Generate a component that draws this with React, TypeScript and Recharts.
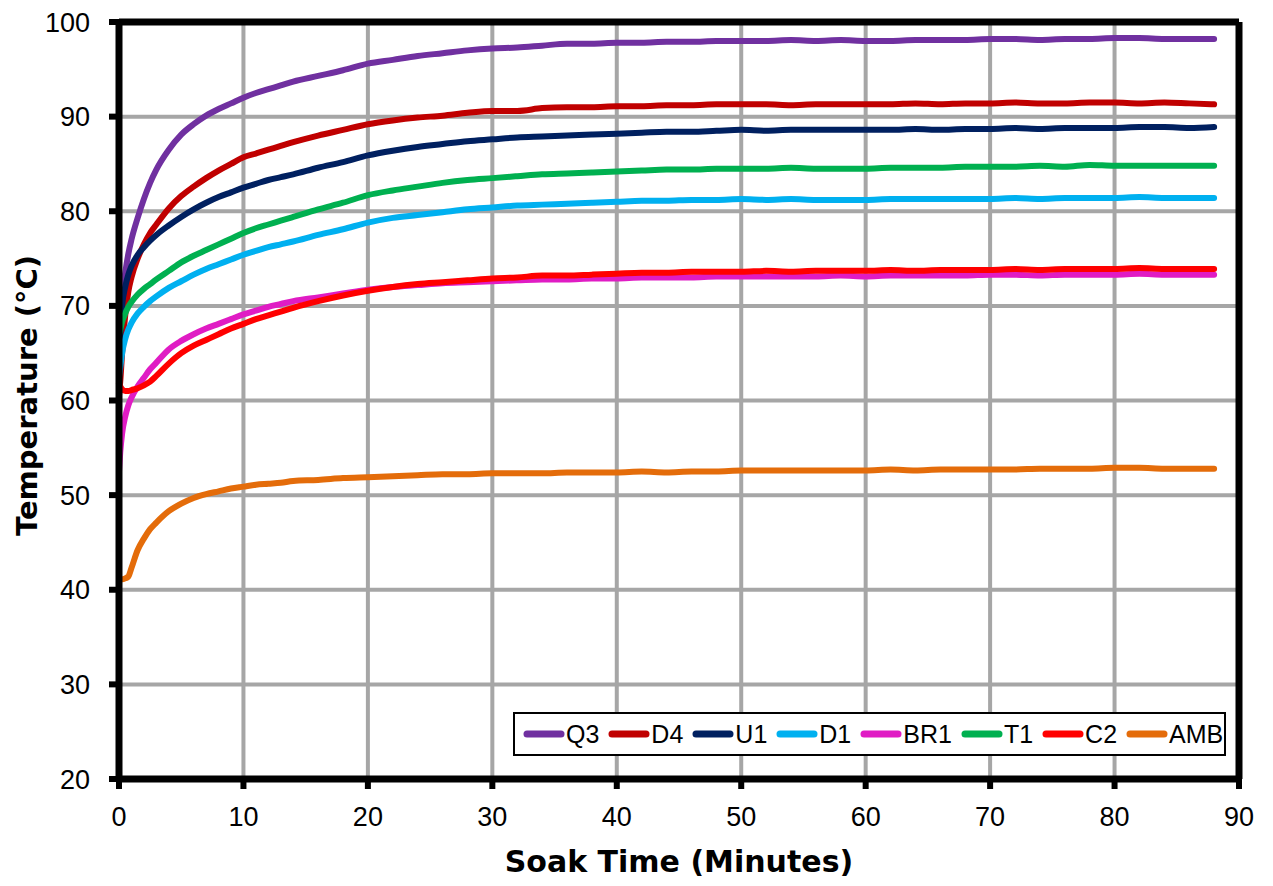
import React from 'react';
import { LineChart, Line, XAxis, YAxis, CartesianGrid, Legend, ReferenceLine } from 'recharts';

// soak time samples (minutes), denser at the start where the curves rise fast
const minutes = [
  0, 0.1, 0.25, 0.5, 0.75, 1, 1.5, 2, 2.5, 3, 4, 5, 6, 7, 8, 9, 10, 11, 12, 13, 14,
  16, 18, 20, 22, 24, 26, 28, 30, 32, 34, 36, 38, 40, 42, 44, 46, 48, 50, 52, 54, 56,
  58, 60, 62, 64, 66, 68, 70, 72, 74, 76, 78, 80, 82, 84, 86, 88,
];

const q3 = [
  66, 68.5, 71, 73.5, 75.5, 77, 79.3, 81.3, 83, 84.4, 86.5, 88.1, 89.2, 90.1, 90.8, 91.4, 92.0, 92.5, 92.9, 93.3, 93.7,
  94.3, 94.9, 95.6, 96.0, 96.4, 96.7, 97.0, 97.2, 97.3, 97.5, 97.7, 97.7, 97.8, 97.8, 97.9, 97.9, 98.0, 98.0, 98.0, 98.1, 98.0,
  98.1, 98.0, 98.0, 98.1, 98.1, 98.1, 98.2, 98.2, 98.1, 98.2, 98.2, 98.3, 98.3, 98.2, 98.2, 98.2,
];
const d4 = [
  60.5, 62, 65, 69, 71.5, 73, 75, 76.5, 77.7, 78.6, 80.3, 81.6, 82.6, 83.5, 84.3, 85.0, 85.7, 86.1, 86.5, 86.9, 87.3,
  88.0, 88.6, 89.2, 89.6, 89.9, 90.1, 90.4, 90.6, 90.6, 90.9, 91.0, 91.0, 91.1, 91.1, 91.2, 91.2, 91.3, 91.3, 91.3, 91.2, 91.3,
  91.3, 91.3, 91.3, 91.4, 91.3, 91.4, 91.4, 91.5, 91.4, 91.4, 91.5, 91.5, 91.4, 91.5, 91.4, 91.3,
];
const u1 = [
  64, 67, 70, 72, 73.3, 74.2, 75.4, 76.2, 76.9, 77.5, 78.5, 79.4, 80.2, 80.9, 81.5, 82.0, 82.5, 82.9, 83.3, 83.6, 83.9,
  84.6, 85.2, 85.9, 86.4, 86.8, 87.1, 87.4, 87.6, 87.8, 87.9, 88.0, 88.1, 88.2, 88.3, 88.4, 88.4, 88.5, 88.6, 88.5, 88.6, 88.6,
  88.6, 88.6, 88.6, 88.7, 88.6, 88.7, 88.7, 88.8, 88.7, 88.8, 88.8, 88.8, 88.9, 88.9, 88.8, 88.9,
];
const d1 = [
  62.5, 63.5, 65, 66.5, 67.5, 68.2, 69.2, 69.9, 70.5, 71.0, 71.9, 72.6, 73.3, 73.9, 74.4, 74.9, 75.4, 75.8, 76.2, 76.5, 76.8,
  77.5, 78.1, 78.8, 79.3, 79.6, 79.9, 80.2, 80.4, 80.6, 80.7, 80.8, 80.9, 81.0, 81.1, 81.1, 81.2, 81.2, 81.3, 81.2, 81.3, 81.2,
  81.2, 81.2, 81.3, 81.3, 81.3, 81.3, 81.3, 81.4, 81.3, 81.4, 81.4, 81.4, 81.5, 81.4, 81.4, 81.4,
];
const br1 = [
  52.5, 54.5, 56.5, 58.3, 59.5, 60.3, 61.5, 62.4, 63.3, 64.0, 65.4, 66.3, 67.0, 67.6, 68.1, 68.6, 69.1, 69.5, 69.9, 70.2, 70.5,
  70.9, 71.3, 71.7, 72.0, 72.2, 72.4, 72.5, 72.6, 72.7, 72.8, 72.8, 72.9, 72.9, 73.0, 73.0, 73.0, 73.1, 73.1, 73.1, 73.1, 73.1,
  73.2, 73.1, 73.2, 73.2, 73.2, 73.2, 73.3, 73.3, 73.2, 73.3, 73.3, 73.3, 73.4, 73.3, 73.3, 73.3,
];
const t1 = [
  67, 67.5, 68.3, 69.2, 69.9, 70.4, 71.2, 71.8, 72.3, 72.8, 73.7, 74.6, 75.3, 75.9, 76.5, 77.1, 77.7, 78.2, 78.6, 79.0, 79.4,
  80.2, 80.9, 81.7, 82.2, 82.6, 83.0, 83.3, 83.5, 83.7, 83.9, 84.0, 84.1, 84.2, 84.3, 84.4, 84.4, 84.5, 84.5, 84.5, 84.6, 84.5,
  84.5, 84.5, 84.6, 84.6, 84.6, 84.7, 84.7, 84.7, 84.8, 84.7, 84.9, 84.8, 84.8, 84.8, 84.8, 84.8,
];
const c2 = [
  61.8, 61.5, 61.2, 61.0, 61.0, 61.1, 61.3, 61.6, 62.0, 62.6, 63.9, 65.0, 65.8, 66.4, 67.0, 67.6, 68.1, 68.6, 69.0, 69.4, 69.8,
  70.5, 71.1, 71.6, 72.0, 72.3, 72.5, 72.7, 72.9, 73.0, 73.2, 73.2, 73.3, 73.4, 73.5, 73.5, 73.6, 73.6, 73.6, 73.7, 73.6, 73.7,
  73.7, 73.7, 73.8, 73.7, 73.8, 73.8, 73.8, 73.9, 73.8, 73.9, 73.9, 73.9, 74.0, 73.9, 73.9, 73.9,
];
const amb = [
  41.1, 41.1, 41.1, 41.2, 41.4, 42.3, 44.2, 45.4, 46.4, 47.1, 48.3, 49.1, 49.7, 50.1, 50.4, 50.7, 50.9, 51.1, 51.2, 51.3, 51.5,
  51.6, 51.8, 51.9, 52.0, 52.1, 52.2, 52.2, 52.3, 52.3, 52.3, 52.4, 52.4, 52.4, 52.5, 52.4, 52.5, 52.5, 52.6, 52.6, 52.6, 52.6,
  52.6, 52.6, 52.7, 52.6, 52.7, 52.7, 52.7, 52.7, 52.8, 52.8, 52.8, 52.9, 52.9, 52.8, 52.8, 52.8,
];

const xTicks = [0, 10, 20, 30, 40, 50, 60, 70, 80, 90];
const yTicks = [20, 30, 40, 50, 60, 70, 80, 90, 100];

// drawn in this order, so later ones sit on top (C2 over BR1)
const series = [
  { key: 'Q3', color: '#7030A0', values: q3 },
  { key: 'D4', color: '#C00000', values: d4 },
  { key: 'U1', color: '#002060', values: u1 },
  { key: 'D1', color: '#00B0F0', values: d1 },
  { key: 'BR1', color: '#E01CC4', values: br1 },
  { key: 'T1', color: '#00B050', values: t1 },
  { key: 'C2', color: '#FF0000', values: c2 },
  { key: 'AMB', color: '#E46C0A', values: amb },
];

const rows = minutes.map((t, i) => {
  const row: Record<string, number> = { t };
  series.forEach(s => { row[s.key] = s.values[i]; });
  return row;
});

const tickFont = { fill: '#000', fontSize: 27, fontFamily: '"Liberation Sans", Arial, sans-serif' };
const titleFont = '"DejaVu Sans", Verdana, sans-serif';

function LegendBox() {
  return (
    <div style={{
      display: 'flex', alignItems: 'center', width: '100%', height: '100%', boxSizing: 'border-box',
      border: '2px solid #000', background: '#fff', paddingLeft: 8,
      fontFamily: '"Liberation Sans", Arial, sans-serif', fontSize: 25, color: '#000',
    }}>
      {series.map(s => (
        <div key={s.key} style={{ display: 'flex', alignItems: 'center', marginRight: 9 }}>
          <svg width={42} height={10} style={{ display: 'block' }}>
            <line x1={4} y1={5} x2={38} y2={5} stroke={s.color} strokeWidth={7} strokeLinecap="round" />
          </svg>
          <span style={{ marginLeft: 1 }}>{s.key}</span>
        </div>
      ))}
    </div>
  );
}

export default function App() {
  return (
    <div style={{ position: 'absolute', left: 0, top: 0, width: 1273, height: 886, background: '#fff' }}>
      <LineChart width={1273} height={886} data={rows} margin={{ top: 22, right: 34, bottom: 0, left: 0 }}>
        <CartesianGrid stroke="#A6A6A6" strokeWidth={4} />
        <XAxis
          dataKey="t"
          type="number"
          domain={[0, 90]}
          ticks={xTicks}
          height={107}
          tick={tickFont}
          tickSize={10}
          tickMargin={18}
          tickLine={{ stroke: '#000', strokeWidth: 6 }}
          axisLine={{ stroke: '#000', strokeWidth: 7 }}
          label={{
            content: ({ viewBox }: any) => (
              <text x={viewBox.x + viewBox.width / 2} y={872} textAnchor="middle"
                fontFamily={titleFont} fontWeight="bold" fontSize={30} fill="#000">
                Soak Time (Minutes)
              </text>
            ),
          }}
        />
        <YAxis
          type="number"
          domain={[20, 100]}
          ticks={yTicks}
          width={119}
          tick={tickFont}
          tickSize={10}
          tickMargin={19}
          tickLine={{ stroke: '#000', strokeWidth: 6 }}
          axisLine={{ stroke: '#000', strokeWidth: 7 }}
          label={{
            content: ({ viewBox }: any) => {
              const cy = viewBox.y + viewBox.height / 2 - 5;
              return (
                <text x={37} y={cy} transform={`rotate(-90 37 ${cy})`} textAnchor="middle"
                  fontFamily={titleFont} fontWeight="bold" fontSize={29} fill="#000">
                  Temperature (°C)
                </text>
              );
            },
          }}
        />
        {series.map(s => (
          <Line
            key={s.key}
            type="monotone"
            dataKey={s.key}
            stroke={s.color}
            strokeWidth={6}
            strokeLinecap="round"
            strokeLinejoin="round"
            dot={false}
            activeDot={false}
            isAnimationActive={false}
          />
        ))}
        <ReferenceLine y={100} stroke="#000" strokeWidth={7} />
        <ReferenceLine x={90} stroke="#000" strokeWidth={7} />
        <Legend
          layout="horizontal"
          verticalAlign="middle"
          align="center"
          content={() => <LegendBox />}
          wrapperStyle={{ left: 513, top: 712, width: 713, height: 44 }}
        />
      </LineChart>
    </div>
  );
}
